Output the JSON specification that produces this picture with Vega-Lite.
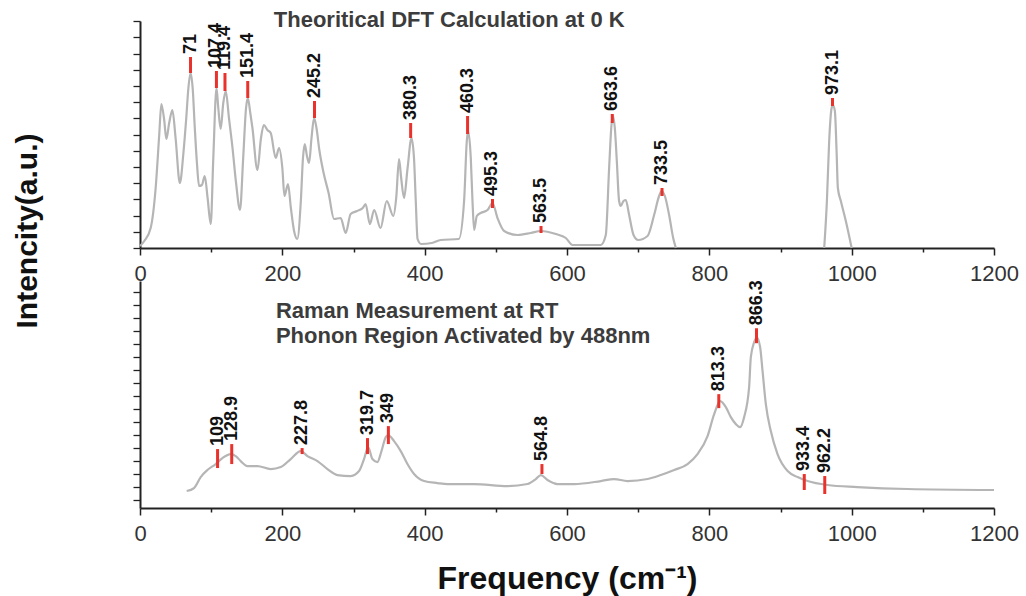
{
  "$schema": "https://vega.github.io/schema/vega-lite/v6.json",
  "padding": {"left": 12, "top": 8, "right": 5, "bottom": 5},
  "background": "white",
  "spacing": 33,
  "bounds": "flush",
  "config": {
    "view": {"stroke": null},
    "axis": {"grid": false, "domainColor": "#222", "tickColor": "#222", "labelFont": "Liberation Sans", "titleFont": "Liberation Sans"}
  },
  "datasets": {
    "dft": [
      {"seg": 1, "f": 0, "I": 2}, {"seg": 1, "f": 6, "I": 7}, {"seg": 1, "f": 15, "I": 20}, {"seg": 1, "f": 22, "I": 60},
      {"seg": 1, "f": 27, "I": 113}, {"seg": 1, "f": 30, "I": 144}, {"seg": 1, "f": 34, "I": 128}, {"seg": 1, "f": 37, "I": 109},
      {"seg": 1, "f": 41, "I": 125}, {"seg": 1, "f": 45.5, "I": 138}, {"seg": 1, "f": 50, "I": 110}, {"seg": 1, "f": 56, "I": 65},
      {"seg": 1, "f": 61, "I": 95}, {"seg": 1, "f": 65, "I": 130}, {"seg": 1, "f": 68, "I": 160}, {"seg": 1, "f": 71, "I": 175},
      {"seg": 1, "f": 74, "I": 160}, {"seg": 1, "f": 77, "I": 120}, {"seg": 1, "f": 80, "I": 85}, {"seg": 1, "f": 83, "I": 62},
      {"seg": 1, "f": 87, "I": 63}, {"seg": 1, "f": 91, "I": 72}, {"seg": 1, "f": 95, "I": 50}, {"seg": 1, "f": 99.4, "I": 24},
      {"seg": 1, "f": 103, "I": 90}, {"seg": 1, "f": 107.5, "I": 160}, {"seg": 1, "f": 110, "I": 140}, {"seg": 1, "f": 113.4, "I": 119},
      {"seg": 1, "f": 117, "I": 145}, {"seg": 1, "f": 120.5, "I": 157}, {"seg": 1, "f": 125, "I": 130}, {"seg": 1, "f": 130, "I": 100},
      {"seg": 1, "f": 135, "I": 65}, {"seg": 1, "f": 140.5, "I": 38}, {"seg": 1, "f": 145, "I": 90}, {"seg": 1, "f": 149, "I": 140},
      {"seg": 1, "f": 151.5, "I": 150}, {"seg": 1, "f": 155, "I": 135}, {"seg": 1, "f": 158, "I": 120}, {"seg": 1, "f": 165, "I": 78},
      {"seg": 1, "f": 170, "I": 110}, {"seg": 1, "f": 174, "I": 123}, {"seg": 1, "f": 179, "I": 118}, {"seg": 1, "f": 183.7, "I": 115},
      {"seg": 1, "f": 190.7, "I": 90}, {"seg": 1, "f": 195.4, "I": 100}, {"seg": 1, "f": 200, "I": 80}, {"seg": 1, "f": 203, "I": 52},
      {"seg": 1, "f": 208, "I": 64}, {"seg": 1, "f": 212, "I": 40}, {"seg": 1, "f": 216.5, "I": 17}, {"seg": 1, "f": 221, "I": 9},
      {"seg": 1, "f": 226, "I": 47}, {"seg": 1, "f": 229, "I": 90}, {"seg": 1, "f": 231.5, "I": 104}, {"seg": 1, "f": 234.6, "I": 92},
      {"seg": 1, "f": 237.6, "I": 85}, {"seg": 1, "f": 241, "I": 110}, {"seg": 1, "f": 244.6, "I": 130}, {"seg": 1, "f": 248, "I": 120},
      {"seg": 1, "f": 252, "I": 98}, {"seg": 1, "f": 258, "I": 75}, {"seg": 1, "f": 265, "I": 55}, {"seg": 1, "f": 272.7, "I": 29},
      {"seg": 1, "f": 282, "I": 30}, {"seg": 1, "f": 289, "I": 15}, {"seg": 1, "f": 296, "I": 34}, {"seg": 1, "f": 305, "I": 37},
      {"seg": 1, "f": 313, "I": 40}, {"seg": 1, "f": 317, "I": 44}, {"seg": 1, "f": 323, "I": 24}, {"seg": 1, "f": 329, "I": 38},
      {"seg": 1, "f": 338, "I": 20}, {"seg": 1, "f": 346.7, "I": 47}, {"seg": 1, "f": 356, "I": 32}, {"seg": 1, "f": 360, "I": 50},
      {"seg": 1, "f": 364, "I": 89}, {"seg": 1, "f": 367, "I": 70}, {"seg": 1, "f": 371, "I": 50}, {"seg": 1, "f": 376, "I": 80},
      {"seg": 1, "f": 381.5, "I": 110}, {"seg": 1, "f": 385, "I": 90}, {"seg": 1, "f": 387.5, "I": 47}, {"seg": 1, "f": 390, "I": 9},
      {"seg": 1, "f": 395, "I": 4}, {"seg": 1, "f": 410, "I": 5}, {"seg": 1, "f": 422.6, "I": 8}, {"seg": 1, "f": 448, "I": 9},
      {"seg": 1, "f": 455.4, "I": 47}, {"seg": 1, "f": 459.2, "I": 107}, {"seg": 1, "f": 461, "I": 117}, {"seg": 1, "f": 464.8, "I": 90},
      {"seg": 1, "f": 467.2, "I": 47}, {"seg": 1, "f": 469.5, "I": 18}, {"seg": 1, "f": 473.3, "I": 32}, {"seg": 1, "f": 478.8, "I": 35},
      {"seg": 1, "f": 488.3, "I": 38}, {"seg": 1, "f": 495.3, "I": 45}, {"seg": 1, "f": 502.3, "I": 30}, {"seg": 1, "f": 511.7, "I": 17},
      {"seg": 1, "f": 530.4, "I": 13}, {"seg": 1, "f": 549, "I": 15}, {"seg": 1, "f": 563.2, "I": 17}, {"seg": 1, "f": 584.3, "I": 14},
      {"seg": 1, "f": 598.3, "I": 10}, {"seg": 1, "f": 607.7, "I": 3}, {"seg": 1, "f": 647.5, "I": 3}, {"seg": 1, "f": 654.5, "I": 13},
      {"seg": 1, "f": 659.2, "I": 80}, {"seg": 1, "f": 662.5, "I": 123}, {"seg": 1, "f": 664.8, "I": 132}, {"seg": 1, "f": 667.2, "I": 120},
      {"seg": 1, "f": 670, "I": 87}, {"seg": 1, "f": 673.2, "I": 47}, {"seg": 1, "f": 675.6, "I": 42}, {"seg": 1, "f": 679.4, "I": 47},
      {"seg": 1, "f": 682.6, "I": 48}, {"seg": 1, "f": 687.3, "I": 33}, {"seg": 1, "f": 693.5, "I": 13}, {"seg": 1, "f": 700, "I": 8},
      {"seg": 1, "f": 713.2, "I": 12}, {"seg": 1, "f": 722.4, "I": 33}, {"seg": 1, "f": 729.4, "I": 52}, {"seg": 1, "f": 732.8, "I": 57},
      {"seg": 1, "f": 737.5, "I": 52}, {"seg": 1, "f": 743.5, "I": 33}, {"seg": 1, "f": 749.2, "I": 10}, {"seg": 1, "f": 753, "I": 0},
      {"seg": 2, "f": 961.4, "I": 0}, {"seg": 2, "f": 965.2, "I": 47}, {"seg": 2, "f": 968.4, "I": 107}, {"seg": 2, "f": 971.8, "I": 140},
      {"seg": 2, "f": 973.6, "I": 143}, {"seg": 2, "f": 976.4, "I": 137}, {"seg": 2, "f": 978.8, "I": 97}, {"seg": 2, "f": 980.6, "I": 60},
      {"seg": 2, "f": 984.8, "I": 47}, {"seg": 2, "f": 991.8, "I": 27}, {"seg": 2, "f": 1000, "I": 0}
    ],
    "raman": [
      {"f": 65.6, "I": 17}, {"f": 75.9, "I": 20}, {"f": 85.3, "I": 31}, {"f": 94.7, "I": 38}, {"f": 106.4, "I": 44},
      {"f": 115.8, "I": 50}, {"f": 127.5, "I": 54}, {"f": 134.5, "I": 52}, {"f": 141.5, "I": 47}, {"f": 150.9, "I": 42},
      {"f": 165, "I": 42}, {"f": 183.7, "I": 39}, {"f": 197.8, "I": 41}, {"f": 211.8, "I": 49}, {"f": 225.9, "I": 57},
      {"f": 235.3, "I": 52}, {"f": 249.3, "I": 47}, {"f": 263.4, "I": 39}, {"f": 277.4, "I": 33}, {"f": 296.1, "I": 32},
      {"f": 307.8, "I": 37}, {"f": 314.8, "I": 49}, {"f": 320.5, "I": 61}, {"f": 326.6, "I": 49}, {"f": 333.6, "I": 46},
      {"f": 339.3, "I": 57}, {"f": 345.3, "I": 71}, {"f": 348.6, "I": 73}, {"f": 357, "I": 67}, {"f": 366.4, "I": 57},
      {"f": 375.8, "I": 44}, {"f": 385.1, "I": 34}, {"f": 399.2, "I": 27}, {"f": 418, "I": 25}, {"f": 432, "I": 24},
      {"f": 469.5, "I": 24}, {"f": 516.4, "I": 22}, {"f": 544.5, "I": 24}, {"f": 556.2, "I": 29}, {"f": 563.2, "I": 33},
      {"f": 572.6, "I": 28}, {"f": 586.6, "I": 24}, {"f": 610, "I": 24}, {"f": 647.5, "I": 27}, {"f": 666.2, "I": 29},
      {"f": 685, "I": 27}, {"f": 713.2, "I": 29}, {"f": 731.8, "I": 33}, {"f": 750.6, "I": 38}, {"f": 769.4, "I": 44},
      {"f": 783.4, "I": 54}, {"f": 797.5, "I": 72}, {"f": 806.8, "I": 94}, {"f": 815.2, "I": 107}, {"f": 823.2, "I": 101},
      {"f": 830.2, "I": 91}, {"f": 837.3, "I": 84}, {"f": 843.3, "I": 81}, {"f": 848.9, "I": 91}, {"f": 855.9, "I": 121},
      {"f": 858.3, "I": 151}, {"f": 863, "I": 166}, {"f": 866.7, "I": 171}, {"f": 871.4, "I": 161}, {"f": 874.8, "I": 137},
      {"f": 879.4, "I": 104}, {"f": 886.4, "I": 77}, {"f": 895.8, "I": 54}, {"f": 910, "I": 37}, {"f": 924, "I": 31},
      {"f": 938, "I": 27}, {"f": 966, "I": 23}, {"f": 1008, "I": 21}, {"f": 1078.6, "I": 19}, {"f": 1200, "I": 18}
    ],
    "dftPeaks": [
      {"label": "71", "f": 71, "lo": 175, "hi": 191},
      {"label": "107.4", "f": 107.4, "lo": 160, "hi": 177},
      {"label": "119.4", "f": 119.4, "lo": 157, "hi": 175},
      {"label": "151.4", "f": 151.4, "lo": 150, "hi": 167},
      {"label": "245.2", "f": 245.2, "lo": 130, "hi": 147},
      {"label": "380.3", "f": 380.3, "lo": 110, "hi": 125},
      {"label": "460.3", "f": 460.3, "lo": 114, "hi": 132},
      {"label": "495.3", "f": 495.3, "lo": 40, "hi": 49},
      {"label": "563.5", "f": 563.5, "lo": 15, "hi": 22},
      {"label": "663.6", "f": 663.6, "lo": 125, "hi": 134},
      {"label": "733.5", "f": 733.5, "lo": 52, "hi": 60},
      {"label": "973.1", "f": 973.1, "lo": 142, "hi": 150}
    ],
    "ramanPeaks": [
      {"label": "109", "f": 109, "lo": 40, "hi": 59},
      {"label": "128.9", "f": 128.9, "lo": 44, "hi": 64},
      {"label": "227.8", "f": 227.8, "lo": 54, "hi": 60},
      {"label": "319.7", "f": 319.7, "lo": 54, "hi": 70},
      {"label": "349", "f": 349, "lo": 64, "hi": 82},
      {"label": "564.8", "f": 564.8, "lo": 34, "hi": 44},
      {"label": "813.3", "f": 813.3, "lo": 100, "hi": 114},
      {"label": "866.3", "f": 866.3, "lo": 165, "hi": 180},
      {"label": "933.4", "f": 933.4, "lo": 18, "hi": 34},
      {"label": "962.2", "f": 962.2, "lo": 14, "hi": 32}
    ],
    "notesTop": [
      {"f": 188, "I": 221, "text": "Theoritical DFT Calculation at 0 K"}
    ],
    "notesBottom": [
      {"f": 191, "I": 190, "text": "Raman Measurement at RT"},
      {"f": 191, "I": 165, "text": "Phonon Region Activated by 488nm"}
    ]
  },
  "vconcat": [
    {
      "width": 854,
      "height": 227,
      "encoding": {
        "x": {
          "field": "f", "type": "quantitative",
          "scale": {"domain": [0, 1200], "nice": false},
          "axis": {
            "title": null,
            "values": [0, 100, 200, 300, 400, 500, 600, 700, 800, 900, 1000, 1100, 1200],
            "tickCount": 40,
            "labelExpr": "datum.value % 200 === 0 ? datum.label : ''",
            "format": "d",
            "tickSize": {"condition": {"test": "datum.value % 200 === 0", "value": 7}, "value": 4},
            "labelPadding": 8, "labelFontSize": 22, "labelColor": "#333",
            "labelFlush": false, "labelOverlap": false,
            "domainWidth": 2, "tickWidth": 1.5
          }
        }
      },
      "layer": [
        {
          "data": {"name": "dft"},
          "mark": {"type": "line", "color": "#b5b5b5", "strokeWidth": 2.2, "interpolate": "monotone"},
          "encoding": {
            "y": {
              "field": "I", "type": "quantitative",
              "scale": {"domain": [0, 227], "nice": false},
              "axis": {
                "title": "Intencity(a.u.)",
                "titleFontSize": 30, "titleFontWeight": "bold", "titleColor": "#111",
                "titleAngle": 270, "titleAlign": "left", "titleBaseline": "alphabetic",
                "titleX": -104, "titleY": 307,
                "labels": false, "tickSize": 7, "domainWidth": 2, "tickWidth": 1.3,
                "tickCount": 40, "labelOverlap": false,
                "values": [0, 16.2, 32.4, 48.6, 64.8, 81, 97.2, 113.4, 129.6, 145.8, 162, 178.2, 194.4, 210.6, 226.8]
              }
            },
            "detail": {"field": "seg"}
          }
        },
        {
          "data": {"name": "dftPeaks"},
          "mark": {"type": "rule", "color": "#e8322b", "strokeWidth": 3},
          "encoding": {
            "y": {"field": "lo", "type": "quantitative"},
            "y2": {"field": "hi"}
          }
        },
        {
          "data": {"name": "dftPeaks"},
          "mark": {"type": "text", "angle": 270, "align": "left", "baseline": "middle", "dx": 3, "fontSize": 18, "fontWeight": "bold", "font": "Liberation Sans", "color": "#111"},
          "encoding": {
            "y": {"field": "hi", "type": "quantitative"},
            "text": {"field": "label"}
          }
        },
        {
          "data": {"name": "notesTop"},
          "mark": {"type": "text", "align": "left", "baseline": "alphabetic", "fontSize": 22, "fontWeight": "bold", "font": "Liberation Sans", "color": "#3c3c3c"},
          "encoding": {
            "y": {"field": "I", "type": "quantitative"},
            "text": {"field": "text"}
          }
        }
      ]
    },
    {
      "width": 854,
      "height": 227,
      "encoding": {
        "x": {
          "field": "f", "type": "quantitative",
          "scale": {"domain": [0, 1200], "nice": false},
          "axis": {
            "title": "Frequency (cm⁻¹)",
            "titleFontSize": 32, "titleFontWeight": "bold", "titleColor": "#111",
            "titleBaseline": "alphabetic", "titleAlign": "center", "titleX": 427, "titleY": 80,
            "values": [0, 100, 200, 300, 400, 500, 600, 700, 800, 900, 1000, 1100, 1200],
            "tickCount": 40,
            "labelExpr": "datum.value % 200 === 0 ? datum.label : ''",
            "format": "d",
            "tickSize": {"condition": {"test": "datum.value % 200 === 0", "value": 7}, "value": 4},
            "labelPadding": 8, "labelFontSize": 22, "labelColor": "#333",
            "labelFlush": false, "labelOverlap": false,
            "domainWidth": 2, "tickWidth": 1.5
          }
        }
      },
      "layer": [
        {
          "data": {"name": "raman"},
          "mark": {"type": "line", "color": "#b5b5b5", "strokeWidth": 2.2, "interpolate": "monotone"},
          "encoding": {
            "y": {
              "field": "I", "type": "quantitative",
              "scale": {"domain": [0, 227.3], "nice": false},
              "axis": {
                "title": null,
                "labels": false, "tickSize": 7, "domainWidth": 2, "tickWidth": 1.3,
                "tickCount": 40, "labelOverlap": false,
                "values": [8, 21, 34, 47, 60, 73, 86, 99, 112, 125, 138, 151, 164, 177, 190, 203, 216]
              }
            }
          }
        },
        {
          "data": {"name": "ramanPeaks"},
          "mark": {"type": "rule", "color": "#e8322b", "strokeWidth": 3},
          "encoding": {
            "y": {"field": "lo", "type": "quantitative"},
            "y2": {"field": "hi"}
          }
        },
        {
          "data": {"name": "ramanPeaks"},
          "mark": {"type": "text", "angle": 270, "align": "left", "baseline": "middle", "dx": 3, "fontSize": 18, "fontWeight": "bold", "font": "Liberation Sans", "color": "#111"},
          "encoding": {
            "y": {"field": "hi", "type": "quantitative"},
            "text": {"field": "label"}
          }
        },
        {
          "data": {"name": "notesBottom"},
          "mark": {"type": "text", "align": "left", "baseline": "alphabetic", "fontSize": 22, "fontWeight": "bold", "font": "Liberation Sans", "color": "#3c3c3c"},
          "encoding": {
            "y": {"field": "I", "type": "quantitative"},
            "text": {"field": "text"}
          }
        }
      ]
    }
  ]
}
